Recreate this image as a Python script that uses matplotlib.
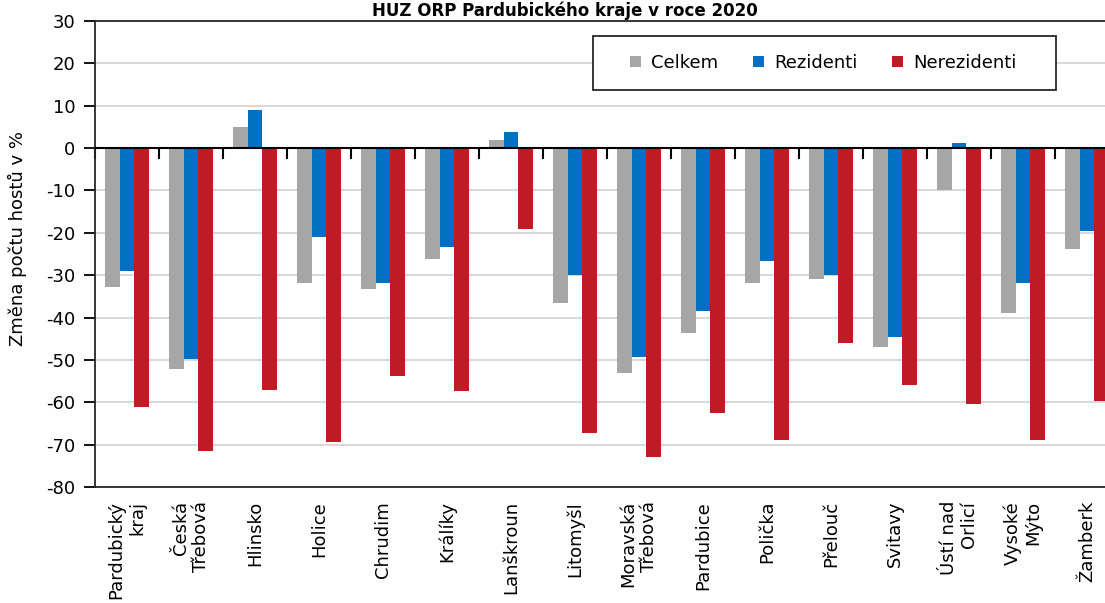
import numpy as np
import matplotlib.pyplot as plt
from matplotlib.patches import Rectangle

# ORP Pardubického kraje
mista = ["Pardubický\nkraj", "Česká\nTřebová", "Hlinsko", "Holice", "Chrudim",
         "Králíky", "Lanškroun", "Litomyšl", "Moravská\nTřebová", "Pardubice",
         "Polička", "Přelouč", "Svitavy", "Ústí nad\nOrlicí", "Vysoké\nMýto",
         "Žamberk"]

# změna počtu hostů v %
celkem = [-32.9, -52.2, 4.9, -31.9, -33.3, -26.2, 2.0, -36.5,
          -53.1, -43.7, -31.9, -30.9, -47.0, -9.8, -39.0, -23.8]
rezidenti = [-29.0, -49.8, 9.1, -20.9, -31.9, -23.4, 3.9, -30.0,
             -49.3, -38.5, -26.7, -30.0, -44.6, 1.2, -31.9, -19.6]
nerezidenti = [-61.1, -71.5, -57.0, -69.3, -53.7, -57.4, -19.1, -67.3,
               -72.9, -62.6, -68.8, -46.1, -56.0, -60.3, -68.8, -59.8]

plt.rcParams['font.family'] = ['DejaVu Sans']
plt.rcParams['axes.unicode_minus'] = False
fs = 13

fig = plt.figure(figsize=(11.05, 6.03), dpi=100)
ax = fig.add_axes([95 / 1105, 116 / 603, 1024 / 1105, 466 / 603])

x = np.arange(len(mista))
w = 0.227
ax.bar(x - w, celkem, w, color="#A6A6A6", label="Celkem", zorder=3)
ax.bar(x, rezidenti, w, color="#0070C0", label="Rezidenti", zorder=3)
ax.bar(x + w, nerezidenti, w, color="#BE1B24", label="Nerezidenti", zorder=3)

ax.set_xlim(-0.5, len(mista) - 0.5)
ax.set_ylim(-80, 30)
ax.set_yticks(np.arange(-80, 31, 10))
ax.yaxis.grid(True, color="#D9D9D9", linewidth=1.5, zorder=0)
ax.set_axisbelow(True)
ax.tick_params(axis="y", direction="out", length=8, width=1.3, pad=6, labelsize=fs)

ax.set_xticks(x)
ax.set_xticklabels(mista, rotation=90, fontsize=fs, va="top", ha="center",
                   multialignment="right")
ax.tick_params(axis="x", length=0, pad=10)

for s in ax.spines.values():
    s.set_color("#262626")
    s.set_linewidth(1.3)

ax.set_ylabel("Změna počtu hostů v %", fontsize=fs)
ax.yaxis.set_label_coords(-68 / 1024, 0.534)

# nulová osa s dílky mezi kategoriemi
ax.axhline(0, color="black", linewidth=1.5, zorder=4)
sec = ax.secondary_xaxis(80 / 110)
sec.set_alignment("bottom")
sec.set_xticks(np.arange(-0.5, len(mista), 1.0))
sec.set_xticklabels([])
sec.tick_params(direction="out", length=8, width=1.5, color="black")
sec.spines["bottom"].set_visible(False)

# legenda
ax.add_patch(Rectangle((593 / 1105, 1 - 90 / 603), 463 / 1105, 54 / 603,
                       transform=fig.transFigure, facecolor="white",
                       edgecolor="#262626", linewidth=1.3, zorder=5, clip_on=False))
leg = ax.legend(ncol=3, loc="center left", bbox_to_anchor=(630 / 1105, 1 - 63 / 603),
                bbox_transform=fig.transFigure, frameon=False, fontsize=fs,
                handlelength=0.6, handleheight=0.6, columnspacing=1.95,
                handletextpad=0.55, borderpad=0, borderaxespad=0)
leg.set_zorder(6)

fig.text(565 / 1105, 1 - 1 / 603, "HUZ ORP Pardubického kraje v roce 2020",
         ha="center", va="top", fontsize=12, fontweight="bold")

fig.savefig("out.png", dpi=100)
